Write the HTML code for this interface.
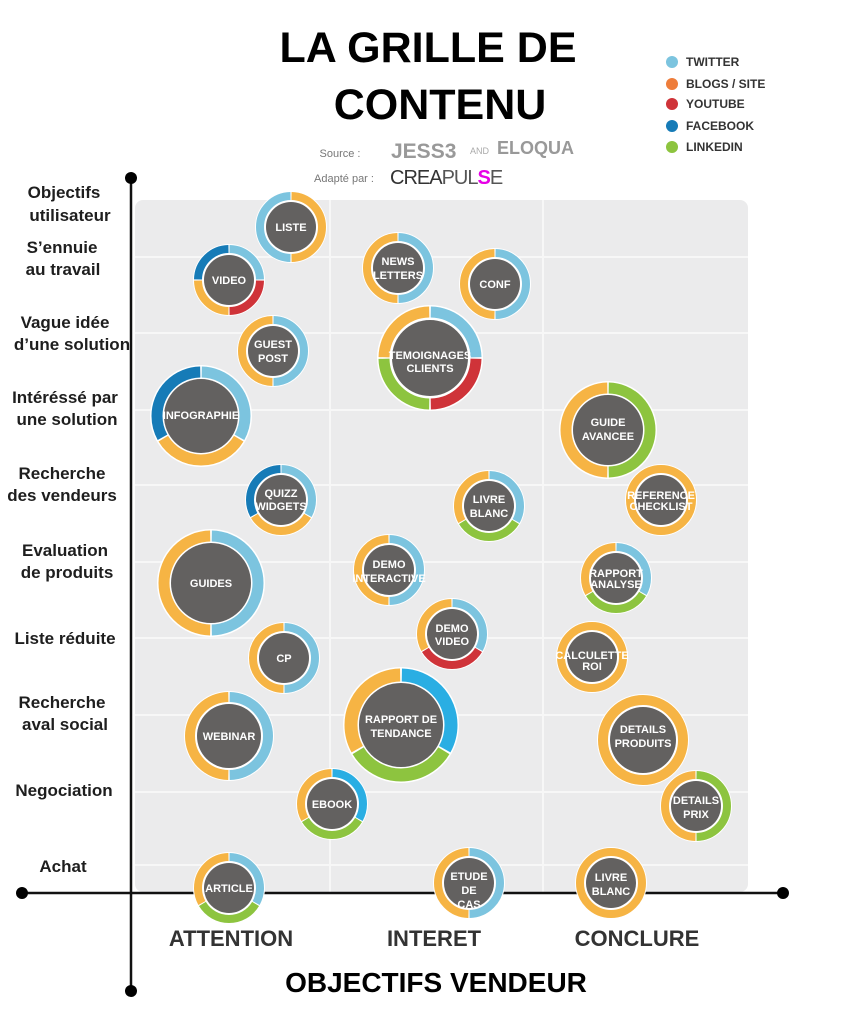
<!DOCTYPE html>
<html><head><meta charset="utf-8"><style>
html,body{margin:0;padding:0;background:#fff;}
svg{display:block;font-family:"Liberation Sans",sans-serif;}
.n{fill:#fff;font-weight:bold;font-size:11px;text-anchor:middle;}
.l{fill:#1e1e1e;font-weight:bold;font-size:17px;text-anchor:middle;}
.lg{fill:#333;font-weight:bold;font-size:12px;}
</style></head><body>
<svg width="841" height="1031" viewBox="0 0 841 1031">
<!-- title -->
<text x="428" y="62" text-anchor="middle" font-size="43" font-weight="bold" fill="#000">LA GRILLE DE</text>
<text x="440" y="119" text-anchor="middle" font-size="43" font-weight="bold" fill="#000">CONTENU</text>
<text x="340" y="157" text-anchor="middle" font-size="11" fill="#777">Source :</text>
<text x="391" y="158" font-size="21" font-weight="bold" fill="#999">JESS3</text>
<text x="470" y="154" font-size="9" fill="#aaa">AND</text>
<text x="497" y="154" font-size="18" font-weight="bold" fill="#999">ELOQUA</text>
<text x="344" y="182" text-anchor="middle" font-size="11" fill="#777">Adapté par :</text>
<text x="390" y="184" font-size="20" fill="#333" letter-spacing="-1">CREA<tspan fill="#555">PUL</tspan><tspan fill="#e600e6" font-weight="bold">S</tspan><tspan fill="#555">E</tspan></text>
<!-- legend -->
<circle cx="672" cy="62" r="6" fill="#7cc4df"/><text class="lg" x="686" y="66">TWITTER</text>
<circle cx="672" cy="84" r="6" fill="#ee7d3b"/><text class="lg" x="686" y="88">BLOGS / SITE</text>
<circle cx="672" cy="104" r="6" fill="#cf3339"/><text class="lg" x="686" y="108">YOUTUBE</text>
<circle cx="672" cy="126" r="6" fill="#167bb7"/><text class="lg" x="686" y="130">FACEBOOK</text>
<circle cx="672" cy="147" r="6" fill="#8dc43f"/><text class="lg" x="686" y="151">LINKEDIN</text>
<!-- grid -->
<rect x="135" y="200" width="613" height="692" rx="8" fill="#ebebec"/>
<g stroke="#f7f7f7" stroke-width="2">
<line x1="135" y1="257" x2="748" y2="257"/><line x1="135" y1="333" x2="748" y2="333"/>
<line x1="135" y1="410" x2="748" y2="410"/><line x1="135" y1="485" x2="748" y2="485"/>
<line x1="135" y1="562" x2="748" y2="562"/><line x1="135" y1="638" x2="748" y2="638"/>
<line x1="135" y1="715" x2="748" y2="715"/><line x1="135" y1="792" x2="748" y2="792"/>
<line x1="135" y1="865" x2="748" y2="865"/>
<line x1="330" y1="200" x2="330" y2="892"/><line x1="543" y1="200" x2="543" y2="892"/>
</g>
<!-- axes -->
<line x1="131" y1="178" x2="131" y2="991" stroke="#111" stroke-width="2.5"/>
<line x1="22" y1="893" x2="783" y2="893" stroke="#111" stroke-width="2.5"/>
<circle cx="131" cy="178" r="6" fill="#000"/><circle cx="131" cy="991" r="6" fill="#000"/>
<circle cx="22" cy="893" r="6" fill="#000"/><circle cx="783" cy="893" r="6" fill="#000"/>
<!-- left labels -->
<text class="l" x="64" y="198">Objectifs</text><text class="l" x="70" y="221">utilisateur</text>
<text class="l" x="62" y="253">S’ennuie</text><text class="l" x="63" y="275">au travail</text>
<text class="l" x="65" y="328">Vague idée</text><text class="l" x="72" y="350">d’une solution</text>
<text class="l" x="65" y="403">Intéréssé par</text><text class="l" x="67" y="425">une solution</text>
<text class="l" x="62" y="479">Recherche</text><text class="l" x="62" y="501">des vendeurs</text>
<text class="l" x="65" y="556">Evaluation</text><text class="l" x="67" y="578">de produits</text>
<text class="l" x="65" y="644">Liste réduite</text>
<text class="l" x="62" y="708">Recherche</text><text class="l" x="65" y="730">aval social</text>
<text class="l" x="64" y="796">Negociation</text>
<text class="l" x="63" y="872">Achat</text>
<!-- bottom labels -->
<text x="231" y="946" text-anchor="middle" font-size="22" font-weight="bold" fill="#333">ATTENTION</text>
<text x="434" y="946" text-anchor="middle" font-size="22" font-weight="bold" fill="#333">INTERET</text>
<text x="637" y="946" text-anchor="middle" font-size="22" font-weight="bold" fill="#333">CONCLURE</text>
<text x="436" y="992" text-anchor="middle" font-size="28" font-weight="bold" fill="#000">OBJECTIFS VENDEUR</text>

<!-- nodes: ring r=R-5 width 8, inner R-11 -->
<g fill="none" stroke-width="8">
<!-- LISTE -->
<g transform="translate(291,227)"><circle r="36" fill="#fff" stroke="none"/><g transform="rotate(-90)">
<circle r="31" pathLength="360" stroke="#f6b444" stroke-dasharray="178 182" stroke-dashoffset="-1"/>
<circle r="31" pathLength="360" stroke="#7cc4df" stroke-dasharray="178 182" stroke-dashoffset="-181"/></g>
<circle r="25" fill="#636160" stroke="none"/></g>
<!-- VIDEO -->
<g transform="translate(229,280)"><circle r="36" fill="#fff" stroke="none"/><g transform="rotate(-90)">
<circle r="31" pathLength="360" stroke="#7cc4df" stroke-dasharray="88 272" stroke-dashoffset="-1"/>
<circle r="31" pathLength="360" stroke="#cf3339" stroke-dasharray="88 272" stroke-dashoffset="-91"/>
<circle r="31" pathLength="360" stroke="#f6b444" stroke-dasharray="88 272" stroke-dashoffset="-181"/>
<circle r="31" pathLength="360" stroke="#167bb7" stroke-dasharray="88 272" stroke-dashoffset="-271"/></g>
<circle r="25" fill="#636160" stroke="none"/></g>
<!-- NEWS LETTERS -->
<g transform="translate(398,268)"><circle r="36" fill="#fff" stroke="none"/><g transform="rotate(-90)">
<circle r="31" pathLength="360" stroke="#7cc4df" stroke-dasharray="178 182" stroke-dashoffset="-1"/>
<circle r="31" pathLength="360" stroke="#f6b444" stroke-dasharray="178 182" stroke-dashoffset="-181"/></g>
<circle r="25" fill="#636160" stroke="none"/></g>
<!-- CONF -->
<g transform="translate(495,284)"><circle r="36" fill="#fff" stroke="none"/><g transform="rotate(-90)">
<circle r="31" pathLength="360" stroke="#7cc4df" stroke-dasharray="178 182" stroke-dashoffset="-1"/>
<circle r="31" pathLength="360" stroke="#f6b444" stroke-dasharray="178 182" stroke-dashoffset="-181"/></g>
<circle r="25" fill="#636160" stroke="none"/></g>
<!-- GUEST POST -->
<g transform="translate(273,351)"><circle r="36" fill="#fff" stroke="none"/><g transform="rotate(-90)">
<circle r="31" pathLength="360" stroke="#7cc4df" stroke-dasharray="178 182" stroke-dashoffset="-1"/>
<circle r="31" pathLength="360" stroke="#f6b444" stroke-dasharray="178 182" stroke-dashoffset="-181"/></g>
<circle r="25" fill="#636160" stroke="none"/></g>
<!-- TEMOIGNAGES -->
<g transform="translate(430,358)" stroke-width="11"><circle r="53" fill="#fff" stroke="none"/><g transform="rotate(-90)">
<circle r="46" pathLength="360" stroke="#7cc4df" stroke-dasharray="88 272" stroke-dashoffset="-1"/>
<circle r="46" pathLength="360" stroke="#cf3339" stroke-dasharray="88 272" stroke-dashoffset="-91"/>
<circle r="46" pathLength="360" stroke="#8dc43f" stroke-dasharray="88 272" stroke-dashoffset="-181"/>
<circle r="46" pathLength="360" stroke="#f6b444" stroke-dasharray="88 272" stroke-dashoffset="-271"/></g>
<circle r="38" fill="#636160" stroke="none"/></g>
<!-- INFOGRAPHIE -->
<g transform="translate(201,416)" stroke-width="11"><circle r="51" fill="#fff" stroke="none"/><g transform="rotate(-90)">
<circle r="44" pathLength="360" stroke="#7cc4df" stroke-dasharray="118 242" stroke-dashoffset="-1"/>
<circle r="44" pathLength="360" stroke="#f6b444" stroke-dasharray="118 242" stroke-dashoffset="-121"/>
<circle r="44" pathLength="360" stroke="#167bb7" stroke-dasharray="118 242" stroke-dashoffset="-241"/></g>
<circle r="37" fill="#636160" stroke="none"/></g>
<!-- GUIDE AVANCEE -->
<g transform="translate(608,430)" stroke-width="11"><circle r="49" fill="#fff" stroke="none"/><g transform="rotate(-90)">
<circle r="42" pathLength="360" stroke="#8dc43f" stroke-dasharray="178 182" stroke-dashoffset="-1"/>
<circle r="42" pathLength="360" stroke="#f6b444" stroke-dasharray="178 182" stroke-dashoffset="-181"/></g>
<circle r="35" fill="#636160" stroke="none"/></g>
<!-- QUIZZ -->
<g transform="translate(281,500)"><circle r="36" fill="#fff" stroke="none"/><g transform="rotate(-90)">
<circle r="31" pathLength="360" stroke="#7cc4df" stroke-dasharray="118 242" stroke-dashoffset="-1"/>
<circle r="31" pathLength="360" stroke="#f6b444" stroke-dasharray="118 242" stroke-dashoffset="-121"/>
<circle r="31" pathLength="360" stroke="#167bb7" stroke-dasharray="118 242" stroke-dashoffset="-241"/></g>
<circle r="25" fill="#636160" stroke="none"/></g>
<!-- LIVRE BLANC -->
<g transform="translate(489,506)"><circle r="36" fill="#fff" stroke="none"/><g transform="rotate(-90)">
<circle r="31" pathLength="360" stroke="#7cc4df" stroke-dasharray="118 242" stroke-dashoffset="-1"/>
<circle r="31" pathLength="360" stroke="#8dc43f" stroke-dasharray="118 242" stroke-dashoffset="-121"/>
<circle r="31" pathLength="360" stroke="#f6b444" stroke-dasharray="118 242" stroke-dashoffset="-241"/></g>
<circle r="25" fill="#636160" stroke="none"/></g>
<!-- REFERENCE CHECKLIST -->
<g transform="translate(661,500)"><circle r="36" fill="#fff" stroke="none"/>
<circle r="31" stroke="#f6b444"/><circle r="25" fill="#636160" stroke="none"/></g>
<!-- GUIDES -->
<g transform="translate(211,583)" stroke-width="11"><circle r="54" fill="#fff" stroke="none"/><g transform="rotate(-90)">
<circle r="47" pathLength="360" stroke="#7cc4df" stroke-dasharray="178 182" stroke-dashoffset="-1"/>
<circle r="47" pathLength="360" stroke="#f6b444" stroke-dasharray="178 182" stroke-dashoffset="-181"/></g>
<circle r="40" fill="#636160" stroke="none"/></g>
<!-- DEMO INTERACTIVE -->
<g transform="translate(389,570)"><circle r="36" fill="#fff" stroke="none"/><g transform="rotate(-90)">
<circle r="31" pathLength="360" stroke="#7cc4df" stroke-dasharray="178 182" stroke-dashoffset="-1"/>
<circle r="31" pathLength="360" stroke="#f6b444" stroke-dasharray="178 182" stroke-dashoffset="-181"/></g>
<circle r="25" fill="#636160" stroke="none"/></g>
<!-- RAPPORT ANALYSE -->
<g transform="translate(616,578)"><circle r="36" fill="#fff" stroke="none"/><g transform="rotate(-90)">
<circle r="31" pathLength="360" stroke="#7cc4df" stroke-dasharray="118 242" stroke-dashoffset="-1"/>
<circle r="31" pathLength="360" stroke="#8dc43f" stroke-dasharray="118 242" stroke-dashoffset="-121"/>
<circle r="31" pathLength="360" stroke="#f6b444" stroke-dasharray="118 242" stroke-dashoffset="-241"/></g>
<circle r="25" fill="#636160" stroke="none"/></g>
<!-- DEMO VIDEO -->
<g transform="translate(452,634)"><circle r="36" fill="#fff" stroke="none"/><g transform="rotate(-90)">
<circle r="31" pathLength="360" stroke="#7cc4df" stroke-dasharray="118 242" stroke-dashoffset="-1"/>
<circle r="31" pathLength="360" stroke="#cf3339" stroke-dasharray="118 242" stroke-dashoffset="-121"/>
<circle r="31" pathLength="360" stroke="#f6b444" stroke-dasharray="118 242" stroke-dashoffset="-241"/></g>
<circle r="25" fill="#636160" stroke="none"/></g>
<!-- CP -->
<g transform="translate(284,658)"><circle r="36" fill="#fff" stroke="none"/><g transform="rotate(-90)">
<circle r="31" pathLength="360" stroke="#7cc4df" stroke-dasharray="178 182" stroke-dashoffset="-1"/>
<circle r="31" pathLength="360" stroke="#f6b444" stroke-dasharray="178 182" stroke-dashoffset="-181"/></g>
<circle r="25" fill="#636160" stroke="none"/></g>
<!-- CALCULETTE ROI -->
<g transform="translate(592,657)"><circle r="36" fill="#fff" stroke="none"/>
<circle r="31" stroke="#f6b444"/><circle r="25" fill="#636160" stroke="none"/></g>
<!-- RAPPORT DE TENDANCE -->
<g transform="translate(401,725)" stroke-width="13"><circle r="58" fill="#fff" stroke="none"/><g transform="rotate(-90)">
<circle r="50" pathLength="360" stroke="#2aaee3" stroke-dasharray="118 242" stroke-dashoffset="-1"/>
<circle r="50" pathLength="360" stroke="#8dc43f" stroke-dasharray="118 242" stroke-dashoffset="-121"/>
<circle r="50" pathLength="360" stroke="#f6b444" stroke-dasharray="118 242" stroke-dashoffset="-241"/></g>
<circle r="42" fill="#636160" stroke="none"/></g>
<!-- WEBINAR -->
<g transform="translate(229,736)" stroke-width="10"><circle r="45" fill="#fff" stroke="none"/><g transform="rotate(-90)">
<circle r="39" pathLength="360" stroke="#7cc4df" stroke-dasharray="178 182" stroke-dashoffset="-1"/>
<circle r="39" pathLength="360" stroke="#f6b444" stroke-dasharray="178 182" stroke-dashoffset="-181"/></g>
<circle r="32" fill="#636160" stroke="none"/></g>
<!-- DETAILS PRODUITS -->
<g transform="translate(643,740)" stroke-width="10"><circle r="46" fill="#fff" stroke="none"/>
<circle r="40" stroke="#f6b444"/><circle r="33" fill="#636160" stroke="none"/></g>
<!-- EBOOK -->
<g transform="translate(332,804)"><circle r="36" fill="#fff" stroke="none"/><g transform="rotate(-90)">
<circle r="31" pathLength="360" stroke="#2aaee3" stroke-dasharray="118 242" stroke-dashoffset="-1"/>
<circle r="31" pathLength="360" stroke="#8dc43f" stroke-dasharray="118 242" stroke-dashoffset="-121"/>
<circle r="31" pathLength="360" stroke="#f6b444" stroke-dasharray="118 242" stroke-dashoffset="-241"/></g>
<circle r="25" fill="#636160" stroke="none"/></g>
<!-- DETAILS PRIX -->
<g transform="translate(696,806)"><circle r="36" fill="#fff" stroke="none"/><g transform="rotate(-90)">
<circle r="31" pathLength="360" stroke="#8dc43f" stroke-dasharray="178 182" stroke-dashoffset="-1"/>
<circle r="31" pathLength="360" stroke="#f6b444" stroke-dasharray="178 182" stroke-dashoffset="-181"/></g>
<circle r="25" fill="#636160" stroke="none"/></g>
<!-- ARTICLE -->
<g transform="translate(229,888)"><circle r="36" fill="#fff" stroke="none"/><g transform="rotate(-90)">
<circle r="31" pathLength="360" stroke="#7cc4df" stroke-dasharray="118 242" stroke-dashoffset="-1"/>
<circle r="31" pathLength="360" stroke="#8dc43f" stroke-dasharray="118 242" stroke-dashoffset="-121"/>
<circle r="31" pathLength="360" stroke="#f6b444" stroke-dasharray="118 242" stroke-dashoffset="-241"/></g>
<circle r="25" fill="#636160" stroke="none"/></g>
<!-- ETUDE DE CAS -->
<g transform="translate(469,883)"><circle r="36" fill="#fff" stroke="none"/><g transform="rotate(-90)">
<circle r="31" pathLength="360" stroke="#7cc4df" stroke-dasharray="178 182" stroke-dashoffset="-1"/>
<circle r="31" pathLength="360" stroke="#f6b444" stroke-dasharray="178 182" stroke-dashoffset="-181"/></g>
<circle r="25" fill="#636160" stroke="none"/></g>
<!-- LIVRE BLANC 2 -->
<g transform="translate(611,883)"><circle r="36" fill="#fff" stroke="none"/>
<circle r="31" stroke="#f6b444"/><circle r="25" fill="#636160" stroke="none"/></g>
</g>

<!-- node labels -->
<text class="n" x="291" y="231">LISTE</text>
<text class="n" x="229" y="284">VIDEO</text>
<text class="n" x="398" y="265">NEWS</text><text class="n" x="398" y="279">LETTERS</text>
<text class="n" x="495" y="288">CONF</text>
<text class="n" x="273" y="348">GUEST</text><text class="n" x="273" y="362">POST</text>
<text class="n" x="430" y="359">TEMOIGNAGES</text><text class="n" x="430" y="372">CLIENTS</text>
<text class="n" x="201" y="419">INFOGRAPHIE</text>
<text class="n" x="608" y="426">GUIDE</text><text class="n" x="608" y="440">AVANCEE</text>
<text class="n" x="281" y="497">QUIZZ</text><text class="n" x="281" y="510">WIDGETS</text>
<text class="n" x="489" y="503">LIVRE</text><text class="n" x="489" y="517">BLANC</text>
<text class="n" x="661" y="499" font-size="8.5">REFERENCE</text><text class="n" x="661" y="510" font-size="8.5">CHECKLIST</text>
<text class="n" x="211" y="587">GUIDES</text>
<text class="n" x="389" y="568">DEMO</text><text class="n" x="389" y="582">INTERACTIVE</text>
<text class="n" x="616" y="577" font-size="9">RAPPORT</text><text class="n" x="616" y="588" font-size="9">ANALYSE</text>
<text class="n" x="452" y="632">DEMO</text><text class="n" x="452" y="645">VIDEO</text>
<text class="n" x="284" y="662">CP</text>
<text class="n" x="592" y="659" font-size="9">CALCULETTE</text><text class="n" x="592" y="670" font-size="9">ROI</text>
<text class="n" x="401" y="723" font-size="12">RAPPORT DE</text><text class="n" x="401" y="737" font-size="12">TENDANCE</text>
<text class="n" x="229" y="740">WEBINAR</text>
<text class="n" x="643" y="733" font-size="12">DETAILS</text><text class="n" x="643" y="747" font-size="12">PRODUITS</text>
<text class="n" x="332" y="808">EBOOK</text>
<text class="n" x="696" y="804">DETAILS</text><text class="n" x="696" y="818">PRIX</text>
<text class="n" x="229" y="892">ARTICLE</text>
<text class="n" x="469" y="880">ETUDE</text><text class="n" x="469" y="894">DE</text><text class="n" x="469" y="908">CAS</text>
<text class="n" x="611" y="881">LIVRE</text><text class="n" x="611" y="895">BLANC</text>
</svg>
</body></html>
